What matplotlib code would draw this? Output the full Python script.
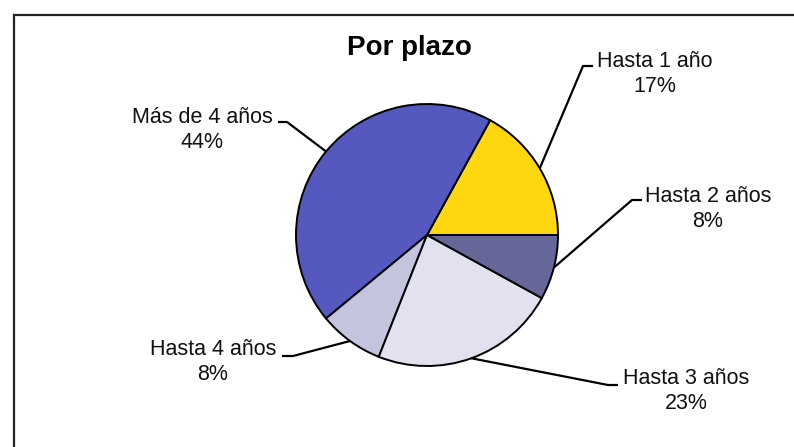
import numpy as np
import matplotlib
matplotlib.use("Agg")
import matplotlib.pyplot as plt
from matplotlib.patches import Rectangle

# ---- data ----
categories = ["Hasta 1 año", "Más de 4 años", "Hasta 4 años", "Hasta 3 años", "Hasta 2 años"]
values = [17, 44, 8, 23, 8]
colors = ["#FFD711", "#5558BF", "#C4C4DE", "#E1E1EF", "#666699"]
title = "Por plazo"

W, H = 794, 447
plt.rcParams['font.family'] = ['Liberation Sans', 'DejaVu Sans']

fig = plt.figure(figsize=(W / 100, H / 100), dpi=100)
ax = fig.add_axes([0, 0, 1, 1])


def Y(y):
    return H - y


cx, cy, r = 427, 235, 131
wedges, _ = ax.pie(values, colors=colors, startangle=0, counterclock=True,
                   center=(cx, Y(cy)), radius=r,
                   wedgeprops=dict(edgecolor="black", linewidth=1.4))

# label layout (screen pixels): elbow point, end of horizontal, text center x, baseline y
layout = [
    ((583, 66), (593, 66), 655, 67),
    ((287, 122), (278, 122), 202, 123),
    ((293, 356), (282, 356), 213, 355),
    ((608, 385), (618, 385), 686, 384),
    ((632, 200), (642, 200), 708, 202),
]

for w, cat, val, (elbow, end, tx, ty) in zip(wedges, categories, values, layout):
    mid = np.deg2rad((w.theta1 + w.theta2) / 2)
    ex = cx + r * np.cos(mid)
    ey = Y(cy) + r * np.sin(mid)
    ax.plot([ex, elbow[0], end[0]], [ey, Y(elbow[1]), Y(end[1])],
            color="black", lw=1.6, solid_capstyle="butt", zorder=3)
    ax.text(tx, Y(ty), cat, ha="center", va="baseline", fontsize=15.5, color="#111111")
    ax.text(tx, Y(ty + 25), f"{val}%", ha="center", va="baseline", fontsize=15.5, color="#111111")

ax.text(409, Y(55), title, ha="center", va="baseline", fontsize=20,
        fontweight="bold", color="black")

ax.add_patch(Rectangle((14, -20), W + 20, Y(15) + 20, fill=False,
                       edgecolor="#222222", lw=1.6, zorder=5))

ax.set_xlim(0, W)
ax.set_ylim(0, H)
ax.set_aspect("equal", adjustable="box")
ax.axis("off")

fig.savefig("out.png", dpi=100, facecolor="white")
